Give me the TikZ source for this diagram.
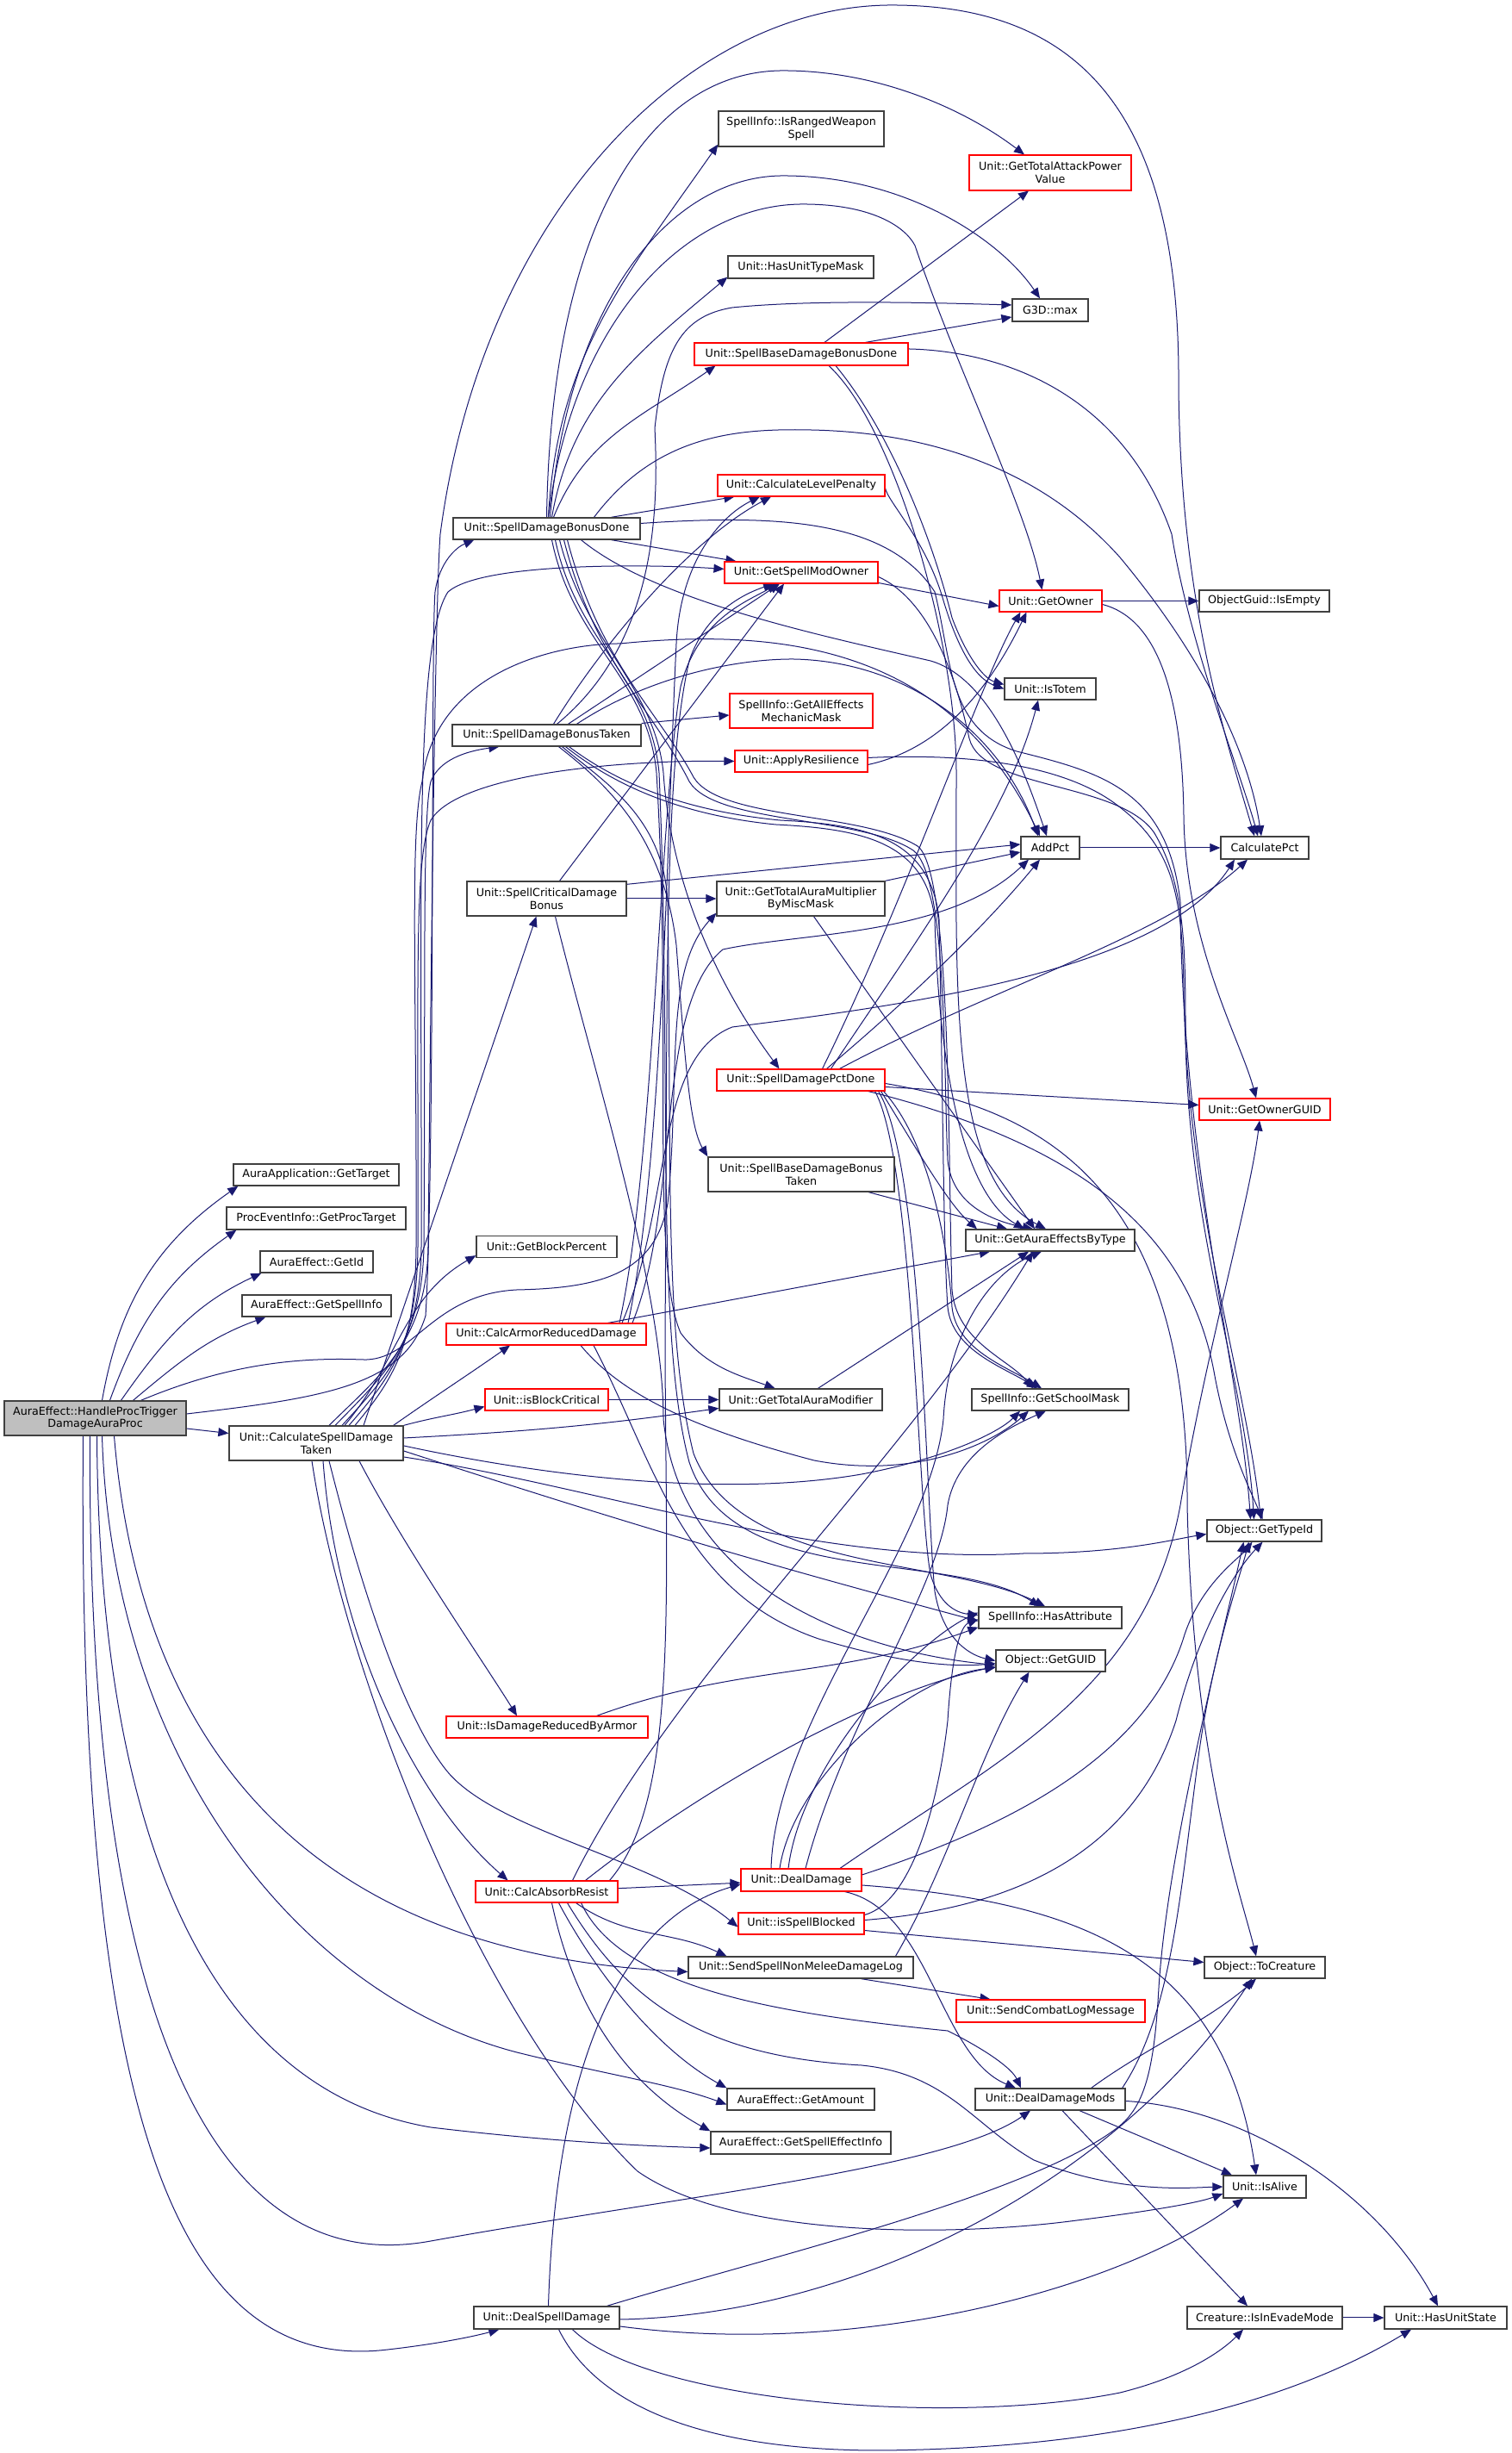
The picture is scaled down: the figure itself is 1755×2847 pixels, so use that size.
\documentclass[tikz,border=0pt]{standalone}
\usepackage{fontspec}
\setmainfont{DejaVu Sans}
\usetikzlibrary{arrows.meta}
\definecolor{edgeblue}{HTML}{191970}
\definecolor{boxgray}{HTML}{404040}
\definecolor{rootfill}{HTML}{BFBFBF}
\pgfdeclarelayer{edges}
\pgfsetlayers{edges,main}
\tikzset{
  fn/.style={draw=boxgray, line width=1.3pt, fill=white, inner sep=0pt, align=center,
    font=\fontsize{12.7}{14.8}\selectfont},
  fnred/.style={fn, draw=red, line width=1.1pt},
  fnroot/.style={fn, fill=rootfill},
  sz/.style 2 args={minimum width=#1, minimum height=#2},
  call/.style={draw=edgeblue, line width=1pt, -{Triangle[length=12pt,width=10pt]}}
}

\begin{document}
\begin{tikzpicture}[x=1pt,y=1pt]
\useasboundingbox (0,0) rectangle (1755,2847);
% Caller and first column
\node[fnroot, sz={211}{40}] (root) at (110.5,1201) {AuraEffect::HandleProcTrigger\\DamageAuraProc};
\node[fn, sz={202}{40}] (calcTaken) at (367,1172) {Unit::CalculateSpellDamage\\Taken};
\node[fn, sz={192}{25}] (getTarget) at (367,1483.5) {AuraApplication::GetTarget};
\node[fn, sz={208}{26}] (getProcTarget) at (367,1433) {ProcEventInfo::GetProcTarget};
\node[fn, sz={131}{25}] (getId) at (367.5,1382.5) {AuraEffect::GetId};
\node[fn, sz={173}{25}] (getSpellInfo) at (367.5,1331.5) {AuraEffect::GetSpellInfo};
% Second column
\node[fn, sz={217}{25}] (bonusDone) at (634.5,2233.5) {Unit::SpellDamageBonusDone};
\node[fn, sz={219}{25}] (bonusTaken) at (634.5,1993.5) {Unit::SpellDamageBonusTaken};
\node[fn, sz={185}{40}] (critBonus) at (634.5,1804) {Unit::SpellCriticalDamage\\Bonus};
\node[fn, sz={163}{25}] (blockPct) at (634.5,1400) {Unit::GetBlockPercent};
\node[fnred, sz={232}{25}] (armorReduced) at (634,1298.5) {Unit::CalcArmorReducedDamage};
\node[fnred, sz={143}{25}] (blockCrit) at (634.5,1222.5) {Unit::isBlockCritical};
\node[fnred, sz={234}{25}] (reducedByArmor) at (635,842.5) {Unit::IsDamageReducedByArmor};
\node[fnred, sz={165}{25}] (absorbResist) at (634.5,651.5) {Unit::CalcAbsorbResist};
\node[fn, sz={169}{26}] (dealSpell) at (634.5,157) {Unit::DealSpellDamage};
% Third column
\node[fn, sz={192}{41}] (rangedSpell) at (930,2697.5) {SpellInfo::IsRangedWeapon\\Spell};
\node[fn, sz={169}{26}] (unitTypeMask) at (929.5,2537) {Unit::HasUnitTypeMask};
\node[fnred, sz={248}{26}] (baseDone) at (930,2436) {Unit::SpellBaseDamageBonusDone};
\node[fnred, sz={194}{25}] (levelPenalty) at (930,2283.5) {Unit::CalculateLevelPenalty};
\node[fnred, sz={178}{25}] (modOwner) at (930,2182.5) {Unit::GetSpellModOwner};
\node[fnred, sz={166}{40}] (mechMask) at (930,2022) {SpellInfo::GetAllEffects\\MechanicMask};
\node[fnred, sz={154}{25}] (resilience) at (930,1963.5) {Unit::ApplyResilience};
\node[fn, sz={195}{40}] (auraMult) at (929.5,1804) {Unit::GetTotalAuraMultiplier\\ByMiscMask};
\node[fnred, sz={195}{25}] (pctDone) at (929.5,1593.5) {Unit::SpellDamagePctDone};
\node[fn, sz={216}{40}] (baseTaken) at (930,1484) {Unit::SpellBaseDamageBonus\\Taken};
\node[fn, sz={189}{25}] (auraMod) at (929.5,1222.5) {Unit::GetTotalAuraModifier};
\node[fnred, sz={140}{26}] (dealDamage) at (930,665) {Unit::DealDamage};
\node[fnred, sz={146}{25}] (spellBlocked) at (930,614.5) {Unit::isSpellBlocked};
\node[fn, sz={261}{25}] (nonMeleeLog) at (929.5,563.5) {Unit::SendSpellNonMeleeDamageLog};
\node[fn, sz={171}{25}] (getAmount) at (929.5,410.5) {AuraEffect::GetAmount};
\node[fn, sz={209}{26}] (effectInfo) at (929.5,360) {AuraEffect::GetSpellEffectInfo};
% Fourth column
\node[fnred, sz={188}{41}] (attackPower) at (1219,2646.5) {Unit::GetTotalAttackPower\\Value};
\node[fn, sz={88}{26}] (gmax) at (1219,2487) {G3D::max};
\node[fnred, sz={119}{25}] (getOwner) at (1219.5,2149.5) {Unit::GetOwner};
\node[fn, sz={106}{25}] (isTotem) at (1219,2047.5) {Unit::IsTotem};
\node[fn, sz={68}{26}] (addPct) at (1219,1863) {AddPct};
\node[fn, sz={196}{25}] (auraByType) at (1219,1407.5) {Unit::GetAuraEffectsByType};
\node[fn, sz={182}{25}] (schoolMask) at (1219,1222.5) {SpellInfo::GetSchoolMask};
\node[fn, sz={166}{25}] (hasAttr) at (1219,969.5) {SpellInfo::HasAttribute};
\node[fn, sz={127}{25}] (getGUID) at (1219.5,919.5) {Object::GetGUID};
\node[fnred, sz={219}{26}] (combatLog) at (1219.5,513) {Unit::SendCombatLogMessage};
\node[fn, sz={174}{25}] (damageMods) at (1219,410.5) {Unit::DealDamageMods};
% Fifth and sixth columns
\node[fn, sz={151}{25}] (guidEmpty) at (1467.5,2149.5) {ObjectGuid::IsEmpty};
\node[fn, sz={102}{26}] (calcPct) at (1468,1863) {CalculatePct};
\node[fnred, sz={152}{25}] (ownerGUID) at (1468,1559.5) {Unit::GetOwnerGUID};
\node[fn, sz={133}{25}] (typeId) at (1467.5,1070.5) {Object::GetTypeId};
\node[fn, sz={140}{25}] (toCreature) at (1468,563.5) {Object::ToCreature};
\node[fn, sz={96}{26}] (isAlive) at (1468,309) {Unit::IsAlive};
\node[fn, sz={180}{26}] (evadeMode) at (1468,157) {Creature::IsInEvadeMode};
\node[fn, sz={142}{26}] (unitState) at (1678,157) {Unit::HasUnitState};

\begin{pgfonlayer}{edges}
% Calls of the caller
\draw[call] ([xshift=8]root.north) to[out=80,in=215] ([xshift=6]getTarget.south west);
\draw[call] ([xshift=17]root.north) to[out=70,in=215] ([xshift=12]getProcTarget.south west);
\draw[call] ([xshift=30]root.north) to[out=55,in=205] ([xshift=2]getId.south west);
\draw[call] ([xshift=44]root.north) to[out=40,in=200] ([xshift=28]getSpellInfo.south west);
\draw[call] (root) -- (calcTaken);
\draw[call] ([yshift=5]root.east) .. controls (380,1225) and (470,1240) .. (494,1320) .. controls (505,1500) and (500,2100) .. (505,2160) .. controls (510,2195) and (530,2212) .. ([xshift=25]bonusDone.south west);
\draw[call] ([xshift=53]root.north) .. controls (260,1262) and (340,1272) .. (420,1269) .. controls (480,1266) and (500,1345) .. (600,1350) .. controls (700,1352) and (760,1370) .. (775,1450) .. controls (790,1600) and (770,1720) .. ([yshift=4]auraMult.south west);
\draw[call] ([xshift=22]root.south) .. controls (160,850) and (330,580) .. ([yshift=-5]nonMeleeLog.west);
\draw[call] ([xshift=8]root.south) .. controls (130,800) and (350,530) .. (600,465) .. controls (700,440) and (780,428) .. ([yshift=-6]getAmount.west);
\draw[call] ([xshift=2]root.south) .. controls (115,700) and (250,420) .. (500,378) .. controls (650,360) and (760,356) .. ([yshift=-6]effectInfo.west);
\draw[call] ([xshift=-6]root.south) .. controls (100,500) and (250,200) .. (500,246) .. controls (800,300) and (1100,330) .. ([xshift=-23]damageMods.south);
\draw[call] ([xshift=-14]root.south) .. controls (90,400) and (200,90) .. (450,120) .. controls (520,128) and (560,138) .. ([xshift=30]dealSpell.south west);
% Unit::CalculateSpellDamageTaken
\draw[call] ([xshift=15]calcTaken.north) .. controls (440,1250) and (495,1290) .. (497,1400) .. controls (500,1700) and (505,2150) .. (511,2227) .. controls (560,2600) and (800,2841) .. (1035,2841) .. controls (1250,2841) and (1370,2720) .. (1368,2400) .. controls (1370,2150) and (1420,2000) .. ([xshift=-12]calcPct.north);
\draw[call] ([xshift=22]calcTaken.north) .. controls (445,1250) and (490,1290) .. (492,1400) .. controls (494,1700) and (490,1900) .. (500,1940) .. controls (510,1965) and (540,1975) .. ([xshift=55]bonusTaken.south west);
\draw[call] ([xshift=30]calcTaken.north) .. controls (450,1250) and (488,1290) .. (489,1400) .. controls (490,1800) and (480,2100) .. (520,2160) .. controls (560,2195) and (760,2192) .. ([yshift=4]modOwner.west);
\draw[call] ([xshift=38]calcTaken.north) .. controls (455,1250) and (484,1290) .. (485,1400) .. controls (486,1700) and (480,1850) .. (500,1895) .. controls (530,1945) and (700,1965) .. (resilience.west);
\draw[call] ([xshift=45]calcTaken.north) .. controls (460,1250) and (482,1290) .. (483,1400) .. controls (484,1700) and (475,1880) .. (490,1940) .. controls (505,2070) and (650,2100) .. (720,2100) .. controls (900,2118) and (1100,2100) .. ([xshift=-12]addPct.north);
\draw[call] ([xshift=55]calcTaken.north) -- ([xshift=-12]critBonus.south);
\draw[call] ([xshift=33]calcTaken.north) to[out=50,in=210] ([yshift=3]blockPct.south west);
\draw[call] ([xshift=-12]calcTaken.north east) to[out=35,in=215] ([xshift=-42]armorReduced.south);
\draw[call] (calcTaken.north east) to[out=15,in=195] ([yshift=-8]blockCrit.west);
\draw[call] ([yshift=6]calcTaken.east) to[out=3,in=188] ([yshift=-10]auraMod.west);
\draw[call] ([yshift=-3]calcTaken.east) .. controls (650,1130) and (850,1110) .. (1000,1136) .. controls (1100,1155) and (1160,1185) .. ([xshift=-35]schoolMask.south);
\draw[call] ([yshift=-9]calcTaken.east) to[out=-18,in=165] ([yshift=-4]hasAttr.west);
\draw[call] ([yshift=-16]calcTaken.east) .. controls (700,1120) and (950,1030) .. (1188,1044) .. controls (1300,1044) and (1360,1060) .. ([yshift=-4]typeId.west);
\draw[call] ([xshift=50]calcTaken.south) .. controls (470,1050) and (560,920) .. ([xshift=-35]reducedByArmor.north);
\draw[call] ([xshift=8]calcTaken.south) .. controls (390,950) and (480,760) .. ([xshift=-45]absorbResist.north);
\draw[call] ([xshift=15]calcTaken.south) .. controls (420,1000) and (470,850) .. (520,790) .. controls (580,720) and (760,690) .. ([yshift=-4]spellBlocked.west);
\draw[call] ([xshift=-5]calcTaken.south) .. controls (400,900) and (560,500) .. (740,327) .. controls (850,250) and (1100,250) .. (1250,270) .. controls (1330,280) and (1390,290) .. ([yshift=-8]isAlive.west);
% Unit::SpellDamageBonusDone
\draw[call] ([xshift=2]bonusDone.north) to[out=87,in=235] ([yshift=3]rangedSpell.south west);
\draw[call] (bonusDone.north) .. controls (640,2600) and (760,2765) .. (909,2765) .. controls (1020,2765) and (1120,2720) .. ([xshift=-30]attackPower.north);
\draw[call] ([xshift=6]bonusDone.north) to[out=80,in=220] ([yshift=2]unitTypeMask.south west);
\draw[call] ([xshift=4]bonusDone.north) .. controls (660,2500) and (780,2643) .. (909,2643) .. controls (1050,2643) and (1160,2570) .. ([xshift=-12]gmax.north);
\draw[call] ([xshift=8]bonusDone.north) to[out=68,in=215] ([xshift=25]baseDone.south west);
\draw[call] ([xshift=2]bonusDone.north) .. controls (665,2480) and (800,2610) .. (932,2610) .. controls (1010,2610) and (1050,2585) .. (1062,2562) .. controls (1110,2420) and (1190,2260) .. ([xshift=-10]getOwner.north);
\draw[call] ([xshift=55]bonusDone.north) .. controls (760,2340) and (850,2350) .. (940,2348) .. controls (1100,2345) and (1220,2290) .. (1300,2200) .. controls (1400,2080) and (1450,1970) .. ([xshift=-4]calcPct.north);
\draw[call] ([xshift=75]bonusDone.north) -- ([xshift=20]levelPenalty.south west);
\draw[call] ([xshift=75]bonusDone.south) -- ([xshift=14]modOwner.north west);
\draw[call] ([yshift=6]bonusDone.east) .. controls (900,2250) and (1030,2245) .. (1085,2160) .. controls (1105,2080) and (1100,2000) .. (1180,1975) .. controls (1280,1950) and (1355,1930) .. (1370,1800) .. controls (1372,1500) and (1440,1250) .. ([xshift=-16]typeId.north);
\draw[call] ([xshift=15]bonusDone.south) .. controls (680,2100) and (760,2050) .. (770,1950) .. controls (780,1800) and (850,1680) .. ([xshift=-25]pctDone.north);
\draw[call] ([xshift=40]bonusDone.south) .. controls (760,2150) and (950,2110) .. (1080,2080) .. controls (1150,2060) and (1190,1950) .. ([xshift=-4]addPct.north);
\draw[call] ([xshift=10]bonusDone.south) .. controls (670,2100) and (755,2060) .. (765,1950) .. controls (780,1600) and (760,1300) .. (800,1150) .. controls (850,1000) and (1100,1050) .. ([xshift=-12]hasAttr.north);
\draw[call] ([xshift=24]bonusDone.south) .. controls (695,2080) and (765,2020) .. (805,1945) .. controls (835,1895) and (1000,1905) .. (1065,1865) .. controls (1105,1835) and (1100,1500) .. (1105,1350) .. controls (1110,1290) and (1170,1270) .. ([xshift=-20]schoolMask.north);
\draw[call] ([xshift=20]bonusDone.south) .. controls (690,2080) and (760,2020) .. (800,1940) .. controls (830,1890) and (1000,1900) .. (1060,1860) .. controls (1100,1830) and (1095,1600) .. (1100,1500) .. controls (1105,1450) and (1150,1430) .. ([xshift=-20]auraByType.north);
\draw[call] ([xshift=6]bonusDone.south) .. controls (665,2100) and (752,2060) .. (762,1950) .. controls (780,1650) and (755,1380) .. (790,1300) .. controls (820,1260) and (860,1250) .. ([xshift=-30]auraMod.north);
% Unit::SpellDamageBonusTaken
\draw[call] ([xshift=25]bonusTaken.north) -- ([xshift=-25]modOwner.south);
\draw[call] ([xshift=8]bonusTaken.north) .. controls (700,2100) and (800,2220) .. ([xshift=-35]levelPenalty.south);
\draw[call] ([xshift=12]bonusTaken.north) .. controls (760,2100) and (765,2250) .. (760,2350) .. controls (770,2440) and (790,2480) .. (850,2490) .. controls (950,2500) and (1100,2495) .. ([yshift=6]gmax.west);
\draw[call] ([yshift=14]bonusTaken.east) -- ([yshift=-5]mechMask.west);
\draw[call] ([xshift=35]bonusTaken.north) .. controls (750,2060) and (850,2082) .. (920,2082) .. controls (1050,2080) and (1160,2000) .. ([xshift=-14]addPct.north);
\draw[call] ([xshift=22]bonusTaken.south) .. controls (720,1930) and (800,1900) .. (900,1890) .. controls (1000,1885) and (1075,1870) .. (1085,1780) .. controls (1090,1600) and (1120,1460) .. ([xshift=-30]auraByType.north);
\draw[call] ([xshift=26]bonusTaken.south) .. controls (725,1932) and (805,1905) .. (905,1895) .. controls (1005,1890) and (1080,1875) .. (1090,1780) .. controls (1095,1550) and (1095,1400) .. (1100,1330) .. controls (1105,1280) and (1165,1260) .. ([xshift=-15]schoolMask.north);
\draw[call] ([xshift=18]bonusTaken.south) .. controls (700,1940) and (770,1900) .. (775,1800) .. controls (780,1500) and (770,1300) .. (805,1160) .. controls (860,1020) and (1100,1040) .. ([xshift=-6]hasAttr.north);
\draw[call] ([xshift=14]bonusTaken.south) .. controls (700,1940) and (770,1880) .. (785,1750) .. controls (795,1620) and (800,1540) .. (baseTaken.north west);
% Unit::SpellCriticalDamageBonus and Unit::GetTotalAuraMultiplierByMiscMask
\draw[call] ([xshift=15]critBonus.north) -- ([xshift=-20]modOwner.south);
\draw[call] ([yshift=-4]critBonus.north east) -- ([yshift=4]addPct.west);
\draw[call] (critBonus) -- (auraMult);
\draw[call] ([xshift=10]critBonus.south) .. controls (690,1600) and (770,1350) .. (770,1200) .. controls (790,1000) and (1000,930) .. ([yshift=-5]getGUID.west);
\draw[call] (auraMult.north east) -- ([yshift=-5]addPct.west);
\draw[call] ([xshift=15]auraMult.south) -- ([xshift=-18]auraByType.north);
% Unit::SpellDamagePctDone
\draw[call] ([xshift=25]pctDone.north) .. controls (1050,1800) and (1140,2060) .. ([xshift=-35]getOwner.south);
\draw[call] ([xshift=35]pctDone.north) .. controls (1060,1750) and (1170,1900) .. ([xshift=-14]isTotem.south);
\draw[call] ([xshift=30]pctDone.north) .. controls (1070,1700) and (1150,1780) .. ([xshift=-12]addPct.south);
\draw[call] ([xshift=45]pctDone.north) .. controls (1150,1700) and (1350,1760) .. ([xshift=-20]calcPct.south);
\draw[call] ([yshift=-8]pctDone.east) -- ([yshift=5]ownerGUID.west);
\draw[call] ([xshift=-20]pctDone.south east) .. controls (1250,1520) and (1380,1420) .. (1410,1250) .. controls (1425,1170) and (1450,1120) .. ([xshift=-2]typeId.north);
\draw[call] ([yshift=-4]pctDone.east) .. controls (1200,1560) and (1380,1480) .. (1378,1100) .. controls (1385,800) and (1440,650) .. ([xshift=-10]toCreature.north);
\draw[call] ([xshift=-5]pctDone.south east) .. controls (1060,1520) and (1100,1450) .. ([xshift=-85]auraByType.north);
\draw[call] ([xshift=-2]pctDone.south east) .. controls (1080,1520) and (1100,1400) .. (1105,1330) .. controls (1110,1280) and (1170,1260) .. ([xshift=-10]schoolMask.north);
\draw[call] ([xshift=-8]pctDone.south east) .. controls (1070,1500) and (1075,1100) .. (1085,1000) .. controls (1095,940) and (1130,925) .. (getGUID.west);
\draw[call] ([xshift=-12]pctDone.south east) .. controls (1060,1500) and (1065,1100) .. (1080,1020) .. controls (1090,985) and (1110,975) .. ([yshift=3]hasAttr.west);
% Short fan-ins
\draw[call] ([xshift=78]baseTaken.south) -- ([xshift=-50]auraByType.north);
\draw[call] ([xshift=20]auraMod.north) -- ([xshift=-25]auraByType.south);
\draw[call] (blockCrit) -- (auraMod);
\draw[call] ([xshift=-60]reducedByArmor.north east) to[out=20,in=200] ([yshift=2]hasAttr.south west);
% Unit::GetSpellModOwner and Unit::GetOwner
\draw[call] ([yshift=-12]modOwner.east) -- ([yshift=-6]getOwner.west);
\draw[call] ([yshift=-5]modOwner.east) .. controls (1080,2150) and (1110,2060) .. (1125,1990) .. controls (1140,1930) and (1300,1940) .. (1340,1880) .. controls (1375,1820) and (1376,1750) .. (1376,1650) .. controls (1378,1420) and (1445,1250) .. ([xshift=-12]typeId.north);
\draw[call] (getOwner) -- (guidEmpty);
\draw[call] ([yshift=-4]getOwner.east) .. controls (1340,2130) and (1372,2050) .. (1374,1900) .. controls (1376,1750) and (1440,1640) .. ([xshift=-10]ownerGUID.north);
% Unit::CalculateLevelPenalty, Unit::SpellBaseDamageBonusDone, Unit::ApplyResilience
\draw[call] ([yshift=-3]levelPenalty.east) .. controls (1030,2265) and (1075,2220) .. (1095,2150) .. controls (1110,2100) and (1130,2060) .. (isTotem.west);
\draw[call] ([xshift=-50]baseDone.north east) -- ([yshift=-8]gmax.west);
\draw[call] ([xshift=27]baseDone.north) -- ([xshift=-25]attackPower.south);
\draw[call] ([yshift=6]baseDone.east) .. controls (1150,2440) and (1300,2400) .. (1360,2227) .. controls (1380,2100) and (1440,1950) .. ([xshift=-8]calcPct.north);
\draw[call] ([xshift=40]baseDone.south) .. controls (1030,2350) and (1080,2230) .. (1105,2130) .. controls (1120,2090) and (1140,2060) .. ([yshift=5]isTotem.west);
\draw[call] ([xshift=32]baseDone.south) .. controls (1040,2350) and (1110,2100) .. (1110,1950) .. controls (1110,1700) and (1100,1480) .. ([xshift=-5]auraByType.north);
\draw[call] ([yshift=-4]resilience.east) .. controls (1080,1975) and (1140,2030) .. ([xshift=-28]getOwner.south);
\draw[call] ([yshift=4]resilience.east) .. controls (1100,1972) and (1230,1966) .. (1300,1910) .. controls (1365,1860) and (1372,1800) .. (1374,1700) .. controls (1377,1450) and (1445,1250) .. ([xshift=-4]typeId.north);
\draw[call] (addPct) -- (calcPct);
% Unit::CalcArmorReducedDamage
\draw[call] ([xshift=85]armorReduced.north) .. controls (760,1500) and (765,1900) .. (790,2050) .. controls (810,2130) and (870,2150) .. ([xshift=-28]modOwner.south);
\draw[call] ([xshift=95]armorReduced.north) .. controls (770,1500) and (775,1900) .. (785,2100) .. controls (790,2200) and (840,2250) .. ([xshift=-48]levelPenalty.south);
\draw[call] ([xshift=100]armorReduced.north) .. controls (790,1450) and (760,1680) .. (839,1745) .. controls (930,1765) and (1100,1760) .. ([xshift=-25]addPct.south);
\draw[call] ([xshift=88]armorReduced.north) .. controls (780,1450) and (760,1620) .. (850,1655) .. controls (1050,1680) and (1350,1720) .. ([xshift=-35]calcPct.south);
\draw[call] ([xshift=-45]armorReduced.north east) -- ([xshift=-70]auraByType.south);
\draw[call] ([xshift=40]armorReduced.south) .. controls (720,1230) and (800,1190) .. (945,1152) .. controls (1060,1130) and (1150,1170) .. ([xshift=-25]schoolMask.south);
\draw[call] ([xshift=55]armorReduced.south) .. controls (760,1150) and (790,1000) .. (950,945) .. controls (1050,915) and (1110,912) .. ([yshift=-3]getGUID.west);
% Unit::CalcAbsorbResist
\draw[call] (absorbResist) -- (dealDamage);
\draw[call] ([xshift=34]absorbResist.south) to[out=-35,in=155] ([xshift=45]nonMeleeLog.north west);
\draw[call] ([xshift=14]absorbResist.south) .. controls (690,560) and (760,470) .. (getAmount.north west);
\draw[call] ([xshift=6]absorbResist.south) .. controls (670,500) and (740,420) .. (effectInfo.north west);
\draw[call] ([xshift=40]absorbResist.south) .. controls (720,540) and (900,510) .. (1100,490) .. controls (1150,465) and (1175,445) .. ([xshift=-34]damageMods.north);
\draw[call] ([xshift=24]absorbResist.south) .. controls (730,520) and (820,460) .. (1000,450) .. controls (1100,440) and (1130,380) .. (1200,340) .. controls (1300,300) and (1380,308) .. (isAlive.west);
\draw[call] ([xshift=30]absorbResist.north) .. controls (780,900) and (1050,1150) .. ([xshift=-20]auraByType.south);
\draw[call] ([xshift=45]absorbResist.north) .. controls (800,760) and (1000,880) .. ([yshift=-7]getGUID.west);
\draw[call] ([xshift=-10]absorbResist.north east) .. controls (790,760) and (772,1000) .. (772,1300) .. controls (775,1700) and (770,1950) .. (800,2080) .. controls (820,2140) and (870,2160) .. ([xshift=-32]modOwner.south);
% Unit::DealDamage
\draw[call] ([yshift=-6]dealDamage.east) .. controls (1250,640) and (1420,580) .. ([xshift=-10]isAlive.north);
\draw[call] ([xshift=-20]dealDamage.south east) .. controls (1080,630) and (1090,460) .. ([xshift=-40]damageMods.north);
\draw[call] ([yshift=6]dealDamage.east) .. controls (1150,720) and (1330,800) .. (1375,950) .. controls (1395,1010) and (1440,1040) .. ([xshift=-14]typeId.south);
\draw[call] ([xshift=45]dealDamage.north) .. controls (1150,800) and (1330,880) .. (1370,1100) .. controls (1400,1280) and (1450,1450) .. ([xshift=-6]ownerGUID.south);
\draw[call] ([xshift=-15]dealDamage.north) .. controls (930,800) and (1060,940) .. ([yshift=6]hasAttr.west);
\draw[call] ([xshift=-25]dealDamage.north) .. controls (920,780) and (1050,900) .. ([yshift=-8]getGUID.west);
\draw[call] ([xshift=5]dealDamage.north) .. controls (980,850) and (1090,1000) .. (1100,1100) .. controls (1110,1160) and (1170,1190) .. ([xshift=-5]schoolMask.south);
\draw[call] ([xshift=-35]dealDamage.north) .. controls (900,850) and (1080,1050) .. (1095,1200) .. controls (1100,1300) and (1150,1370) .. ([xshift=-10]auraByType.south);
% Unit::isSpellBlocked and Unit::SendSpellNonMeleeDamageLog
\draw[call] ([yshift=-8]spellBlocked.east) -- ([yshift=6]toCreature.west);
\draw[call] ([yshift=4]spellBlocked.east) .. controls (1150,630) and (1310,680) .. (1365,850) .. controls (1390,950) and (1430,1020) .. ([xshift=-2]typeId.south);
\draw[call] ([yshift=10]spellBlocked.east) .. controls (1060,640) and (1090,760) .. (1100,850) .. controls (1105,930) and (1115,960) .. ([yshift=-2]hasAttr.west);
\draw[call] ([xshift=70]nonMeleeLog.south) -- ([xshift=-70]combatLog.north);
\draw[call] ([xshift=110]nonMeleeLog.north) .. controls (1100,680) and (1140,820) .. ([xshift=-25]getGUID.south);
% Unit::DealDamageMods
\draw[call] ([xshift=34]damageMods.south) -- ([xshift=-38]isAlive.north);
\draw[call] ([xshift=14]damageMods.south) -- ([xshift=-20]evadeMode.north);
\draw[call] ([yshift=-2]damageMods.east) .. controls (1450,400) and (1600,300) .. ([xshift=-9]unitState.north);
\draw[call] ([xshift=-40]damageMods.north east) .. controls (1330,470) and (1400,500) .. ([xshift=-10]toCreature.south);
\draw[call] ([xshift=-4]damageMods.north east) .. controls (1360,510) and (1370,650) .. (1390,800) .. controls (1405,920) and (1440,1020) .. ([xshift=-18]typeId.south);
% Unit::DealSpellDamage
\draw[call] ([xshift=2]dealSpell.north) .. controls (645,450) and (720,620) .. ([yshift=-5]dealDamage.west);
\draw[call] ([xshift=70]dealSpell.north) .. controls (900,230) and (1200,300) .. (1300,380) .. controls (1330,405) and (1340,450) .. (1345,540) .. controls (1355,700) and (1420,950) .. ([xshift=-24]typeId.south);
\draw[call] ([yshift=-2]dealSpell.east) .. controls (1000,160) and (1300,320) .. ([xshift=-15]toCreature.south);
\draw[call] ([yshift=-10]dealSpell.east) .. controls (1000,110) and (1300,190) .. ([xshift=-25]isAlive.south);
\draw[call] ([xshift=30]dealSpell.south) .. controls (750,60) and (1100,30) .. (1300,70) .. controls (1380,90) and (1420,120) .. ([xshift=-25]evadeMode.south);
\draw[call] ([xshift=14]dealSpell.south) .. controls (700,40) and (850,3) .. (1020,3) .. controls (1300,5) and (1500,60) .. ([xshift=-40]unitState.south);
\draw[call] (evadeMode) -- (unitState);
\end{pgfonlayer}
\end{tikzpicture}
\end{document}
